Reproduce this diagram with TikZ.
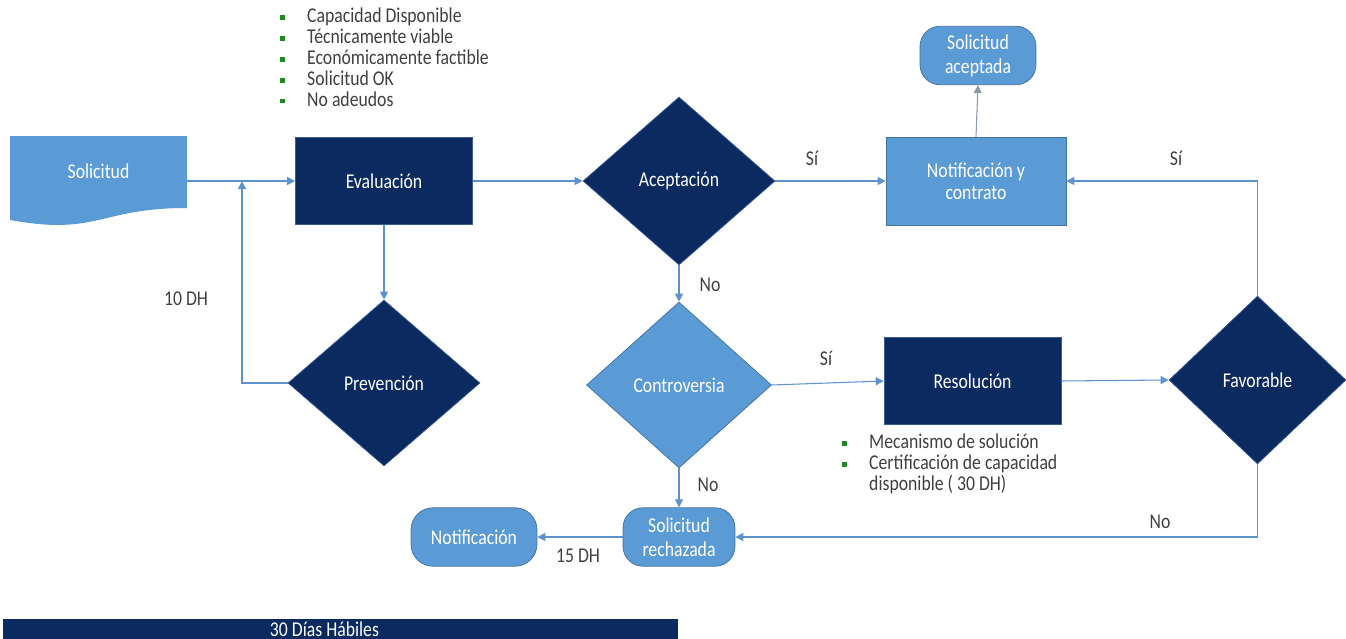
\documentclass[tikz,border=0pt]{standalone}
\usepackage{fontspec}
\setmainfont{Carlito}[FakeStretch=0.84]
\usetikzlibrary{arrows.meta,shapes.geometric}
\definecolor{navy}{HTML}{0B2A60}
\definecolor{navyedge}{HTML}{3A5C96}
\definecolor{lightblue}{HTML}{5B9BD5}
\definecolor{lightedge}{HTML}{41719C}
\definecolor{flowblue}{HTML}{5E92CC}
\definecolor{flowgray}{HTML}{8D9AA8}
\definecolor{labelgray}{HTML}{404040}
\definecolor{bulletgreen}{HTML}{1F8A1F}
\newcommand{\bul}{\makebox[15.3pt][l]{\textcolor{bulletgreen}{\rule[1.8pt]{2.8pt}{2.8pt}}}}

\begin{document}
\begin{tikzpicture}[x=0.02cm,y=-0.02cm,
	every node/.style={font=\fontsize{12}{12.6}\selectfont},
	darkbox/.style={draw=navyedge,fill=navy,text=white,minimum width=3.54cm,minimum height=1.74cm,inner sep=0},
	lightbox/.style={draw=lightedge,fill=lightblue,text=white,minimum width=3.6cm,minimum height=1.76cm,inner sep=0,align=center},
	darkdiam/.style={diamond,draw=navyedge,fill=navy,text=white,inner sep=0},
	lightdiam/.style={diamond,draw=lightedge,fill=lightblue,text=white,inner sep=0},
	endbox/.style={draw=lightedge,fill=lightblue,text=white,minimum height=1.17cm,inner sep=0,align=center,font=\fontsize{12}{13.6}\selectfont},
	flow/.style={draw=flowblue,line width=.6pt,-{Triangle[length=1.6mm,width=1.6mm]}},
	lbl/.style={text=labelgray,inner sep=0},
	notes/.style={text=labelgray,align=left,inner sep=0,font=\fontsize{12}{11.9}\selectfont}]
	\useasboundingbox (0,0) rectangle (1346,639);

	% entrada
	\fill[lightblue] (10,136) -- (187,136) -- (187,208) .. controls (98.5,208) and (98.5,236) .. (10,220) -- cycle;
	\node[text=white,minimum width=3.54cm,inner sep=0] (sol) at (98.5,171) {Solicitud};
	\node[darkbox] (eva) at (384,181) {Evaluación};
	\node[darkdiam,minimum width=3.84cm,minimum height=3.32cm] (prev) at (384,383) {Prevención};
	\node[notes,anchor=north west] (crit) at (280,8) {\bul Capacidad Disponible\\ \bul Técnicamente viable\\ \bul Económicamente factible\\ \bul Solicitud OK\\ \bul No adeudos};

	% decision
	\node[darkdiam,minimum width=3.84cm,minimum height=3.36cm] (acep) at (679,181) {Aceptación};
	\node[lightbox] (notc) at (976,181) {Notificación y\\contrato};
	\node[endbox,minimum width=2.32cm,rounded corners=.4cm] (ok) at (978,55.5) {Solicitud\\aceptada};
	\node[lightdiam,minimum width=3.7cm,minimum height=3.32cm] (contr) at (679,385) {Controversia};
	\node[darkbox] (res) at (972.5,381) {Resolución};
	\node[darkdiam,minimum width=3.54cm,minimum height=3.36cm] (fav) at (1257.5,380) {Favorable};
	\node[notes,anchor=north west] (meca) at (842,434) {\bul Mecanismo de solución\\ \bul Certificación de capacidad\\ \hphantom{\bul}disponible ( 30 DH)};

	% rechazo
	\node[endbox,minimum width=2.24cm,rounded corners=.4cm] (rech) at (679,537) {Solicitud\\rechazada};
	\node[endbox,minimum width=2.52cm,rounded corners=.44cm] (notif) at (474,537) {Notificación};
	\node[fill=navy,text=white,minimum width=13.5cm,minimum height=.4cm,inner sep=0] (plazo) at (340.5,629) {\hspace*{-.64cm}30 Días Hábiles};

	% conectores
	\coordinate (up) at (242,181);
	\draw[flow] (sol.east |- eva.west) -- (eva.west);
	\draw[flow] (eva.south) -- (prev.north);
	\draw[flow] (prev.west) -| (up);
	\draw[flow] (eva.east) -- (acep.west);
	\draw[flow] (acep.east) -- (notc.west);
	\draw[flow,draw=flowgray] (notc.north) -- (ok.south);
	\draw[flow] (acep.south) -- (contr.north);
	\draw[flow] (contr.east) -- (res.west);
	\draw[flow] (res.east) -- (fav.west);
	\draw[flow] (fav.north) |- (notc.east);
	\draw[flow] (fav.south) |- (rech.east);
	\draw[flow] (contr.south) -- (rech.north);
	\draw[flow] (rech.west) -- (notif.east);

	\node[lbl] (si1) at (812,158) {Sí};
	\node[lbl] (si2) at (1176,158) {Sí};
	\node[lbl] (si3) at (826,358) {Sí};
	\node[lbl] (no1) at (710,285) {No};
	\node[lbl] (no2) at (708,485) {No};
	\node[lbl] (no3) at (1160,522) {No};
	\node[lbl] (dh10) at (186,299) {10 DH};
	\node[lbl] (dh15) at (578,556) {15 DH};
\end{tikzpicture}
\end{document}
